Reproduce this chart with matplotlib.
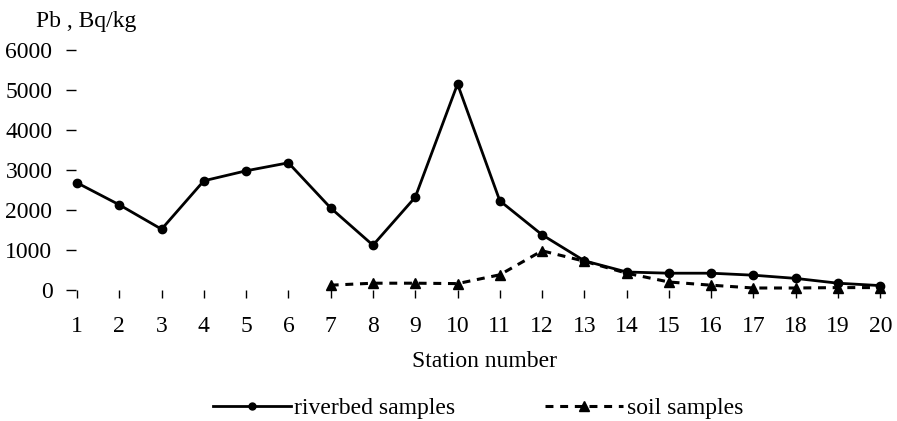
"""Pb activity along the station transect: riverbed vs soil samples."""

import matplotlib
matplotlib.use("Agg")
import matplotlib.pyplot as plt

stations = list(range(1, 21))
riverbed = [2680, 2130, 1520, 2730, 2980, 3180, 2050, 1120, 2320, 5150,
            2230, 1380, 730, 450, 420, 420, 370, 290, 170, 110]
soil_stations = list(range(7, 21))
soil = [120, 170, 170, 160, 380, 980, 720, 420, 200, 120, 50, 50, 60, 60]

y_ticks = [0, 1000, 2000, 3000, 4000, 5000, 6000]

plt.rcParams["font.family"] = ["Liberation Serif", "DejaVu Serif"]
FS = 17

fig = plt.figure(figsize=(8.97, 4.21), dpi=100)
ax = fig.add_axes([76 / 897, 131 / 421, (893 - 76) / 897, 240 / 421])

ax.plot(stations, riverbed, color="black", lw=2, marker="o", ms=6,
        clip_on=False, label="riverbed samples", zorder=3)
ax.plot(soil_stations, soil, color="black", lw=2.2, linestyle=(0, (2.6, 2.2)),
        marker="^", ms=7, clip_on=False, label="soil samples", zorder=3)

ax.set_xlim(0.976, 20.3)
ax.set_ylim(0, 6000)
ax.set_xticks(stations)
ax.set_yticks(y_ticks)
for s in ax.spines.values():
    s.set_visible(False)
ax.tick_params(axis="x", length=6, width=1, pad=13, labelsize=FS)
ax.tick_params(axis="y", length=7, width=1, pad=10, labelsize=FS)
ax.set_xlabel("Station number", fontsize=FS, labelpad=10)

fig.text(36 / 897, 1 - 22 / 421, "Pb , Bq/kg", fontsize=FS, va="center",
         ha="left")

leg = fig.legend(loc="center", bbox_to_anchor=(478 / 897, 1 - 408 / 421),
                 ncol=2, frameon=False, fontsize=FS, handlelength=3.3,
                 numpoints=1, columnspacing=3.8, handletextpad=0.15)
leg.legend_handles[0].set_markersize(5)
leg.legend_handles[1].set_markersize(6.5)

fig.savefig("out.png", dpi=100)
